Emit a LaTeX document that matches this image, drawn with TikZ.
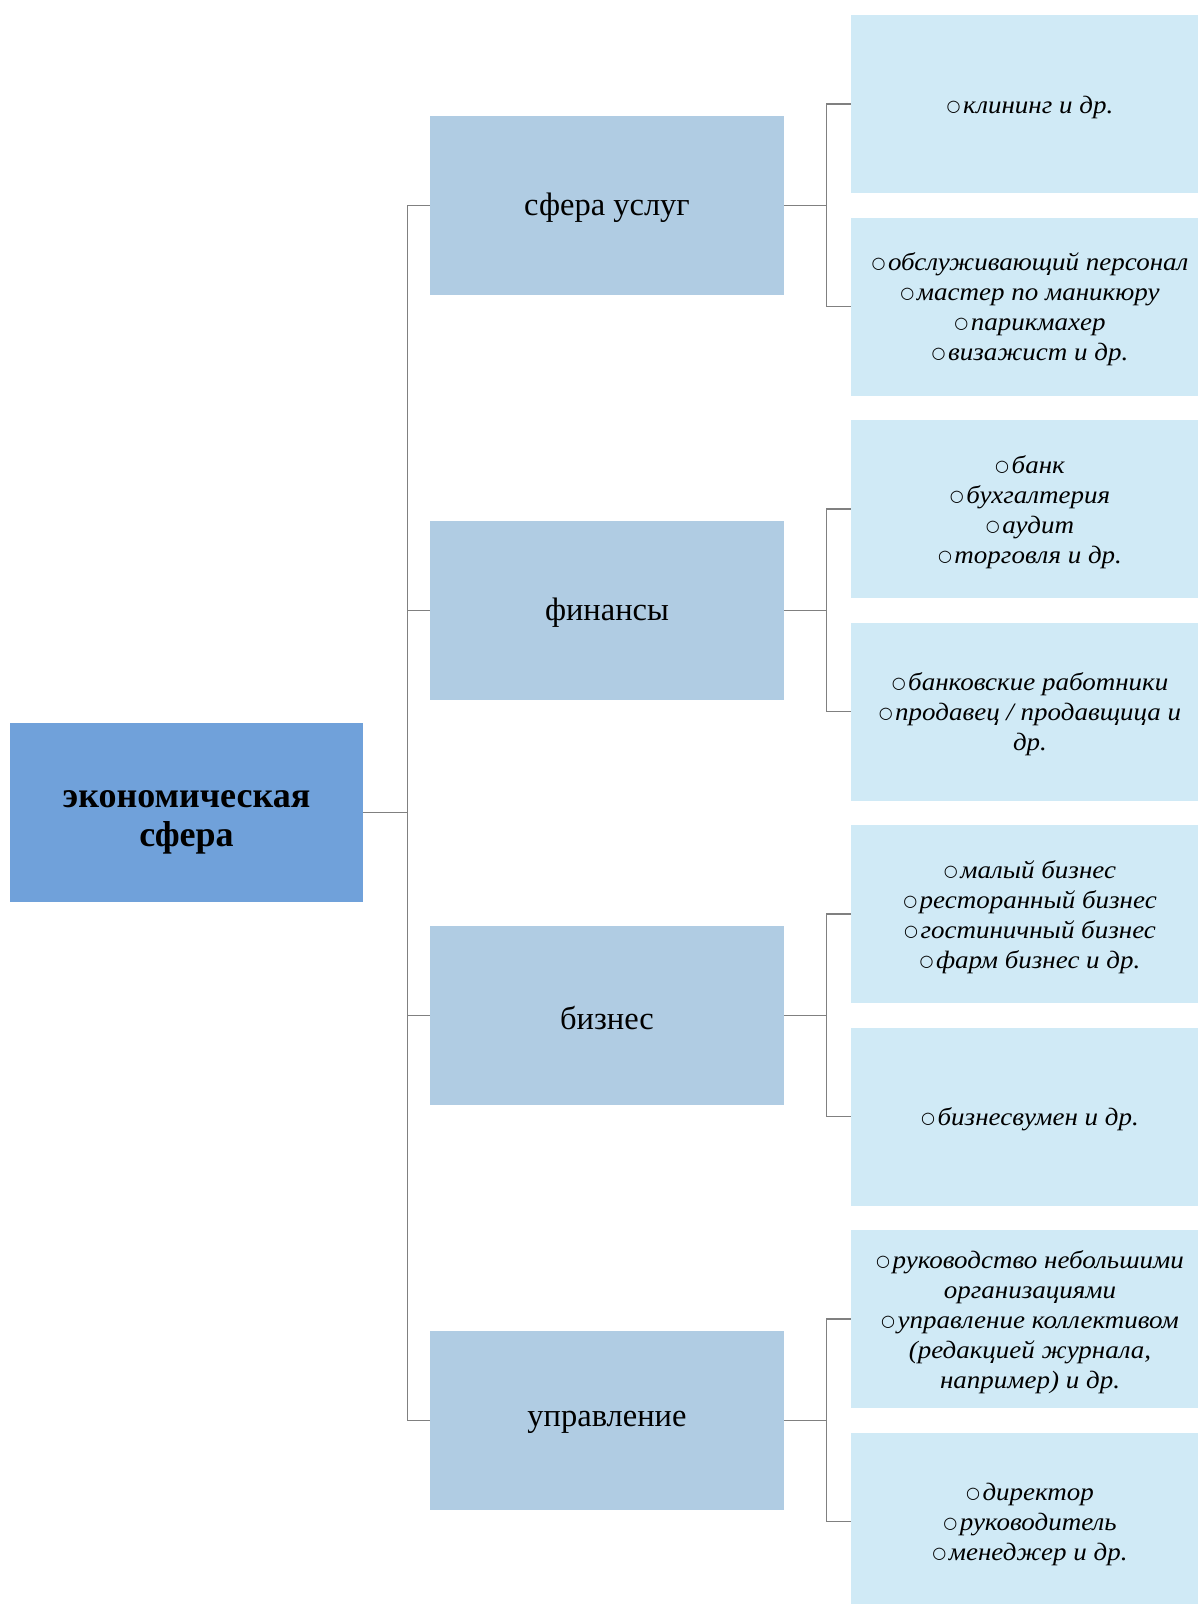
\documentclass[tikz,border=0pt]{standalone}
\usepackage{fontspec}
\setmainfont{Liberation Serif}
\newfontfamily\bulfont{DejaVu Sans}
\newfontfamily\leaffont[FakeStretch=1.08]{Liberation Serif Italic}
\definecolor{rootc}{RGB}{112,161,218}
\definecolor{midc}{RGB}{176,204,227}
\definecolor{leafc}{RGB}{208,234,246}
\definecolor{linec}{RGB}{128,128,128}
\newcommand{\myblt}{{\bulfont\fontsize{16}{16}\selectfont\raisebox{2pt}{○}}\hspace{2.5pt}}
\begin{document}
\begin{tikzpicture}[x=1pt,y=-1pt,
 rootbox/.style={fill=rootc, minimum width=353pt, minimum height=179pt, inner sep=0pt},
 roottext/.style={align=center, inner sep=0pt, yshift=-10pt, font=\fontsize{36}{39}\selectfont\bfseries},
 midbox/.style={fill=midc, minimum width=354pt, minimum height=179pt, inner sep=0pt},
 midtext/.style={align=center, inner sep=0pt, yshift=-2.5pt, font=\fontsize{32.5}{38}\selectfont},
 leafbox/.style={fill=leafc, minimum width=358pt, minimum height=178pt, inner sep=0pt},
 leaftext/.style={align=center, inner sep=0pt, yshift=-3pt, font=\leaffont\fontsize{25}{30}\selectfont},
 conn/.style={draw=linec, line width=1.3pt}]
\useasboundingbox (0,0) rectangle (1198,1604);
\fill[white] (0,0) rectangle (1198,1604);
\clip (0,0) rectangle (1198,1604);
\node[rootbox, label={[roottext, name=roott]center:{экономическая\\сфера}}] (root) at (186.5,812.75) {};
\node[midbox, label={[midtext, name=m1t]center:{сфера услуг}}] (m1) at (607,205.25) {};
\node[midbox, label={[midtext, name=m2t]center:{финансы}}] (m2) at (607,610.25) {};
\node[midbox, label={[midtext, name=m3t]center:{бизнес}}] (m3) at (607,1015.25) {};
\node[midbox, label={[midtext, name=m4t]center:{управление}}] (m4) at (607,1420.25) {};
\node[leafbox, label={[leaftext, name=l1t]center:{\myblt клининг и др.}}] (l1) at (1030,104) {};
\node[leafbox, label={[leaftext, name=l2t]center:{\myblt обслуживающий персонал\\\myblt мастер по маникюру\\\myblt парикмахер\\\myblt визажист и др.}}] (l2) at (1030,306.5) {};
\node[leafbox, label={[leaftext, name=l3t]center:{\myblt банк\\\myblt бухгалтерия\\\myblt аудит\\\myblt торговля и др.}}] (l3) at (1030,509) {};
\node[leafbox, label={[leaftext, name=l4t]center:{\myblt банковские работники\\\myblt продавец / продавщица и\\др.}}] (l4) at (1030,711.5) {};
\node[leafbox, label={[leaftext, name=l5t]center:{\myblt малый бизнес\\\myblt ресторанный бизнес\\\myblt гостиничный бизнес\\\myblt фарм бизнес и др.}}] (l5) at (1030,914) {};
\node[leafbox, label={[leaftext, name=l6t]center:{\myblt бизнесвумен и др.}}] (l6) at (1030,1116.5) {};
\node[leafbox, label={[leaftext, name=l7t]center:{\myblt руководство небольшими\\организациями\\\myblt управление коллективом\\(редакцией журнала,\\например) и др.}}] (l7) at (1030,1319) {};
\node[leafbox, label={[leaftext, name=l8t]center:{\myblt директор\\\myblt руководитель\\\myblt менеджер и др.}}] (l8) at (1030,1521.5) {};
\foreach \m in {m1,m2,m3,m4}{
  \draw[conn] (root.east) -- ++(44,0) |- (\m.west);
}
\draw[conn] (m1.east) -- ++(42,0) |- (l1.west);
\draw[conn] (m1.east) -- ++(42,0) |- (l2.west);
\draw[conn] (m2.east) -- ++(42,0) |- (l3.west);
\draw[conn] (m2.east) -- ++(42,0) |- (l4.west);
\draw[conn] (m3.east) -- ++(42,0) |- (l5.west);
\draw[conn] (m3.east) -- ++(42,0) |- (l6.west);
\draw[conn] (m4.east) -- ++(42,0) |- (l7.west);
\draw[conn] (m4.east) -- ++(42,0) |- (l8.west);
\end{tikzpicture}
\end{document}
